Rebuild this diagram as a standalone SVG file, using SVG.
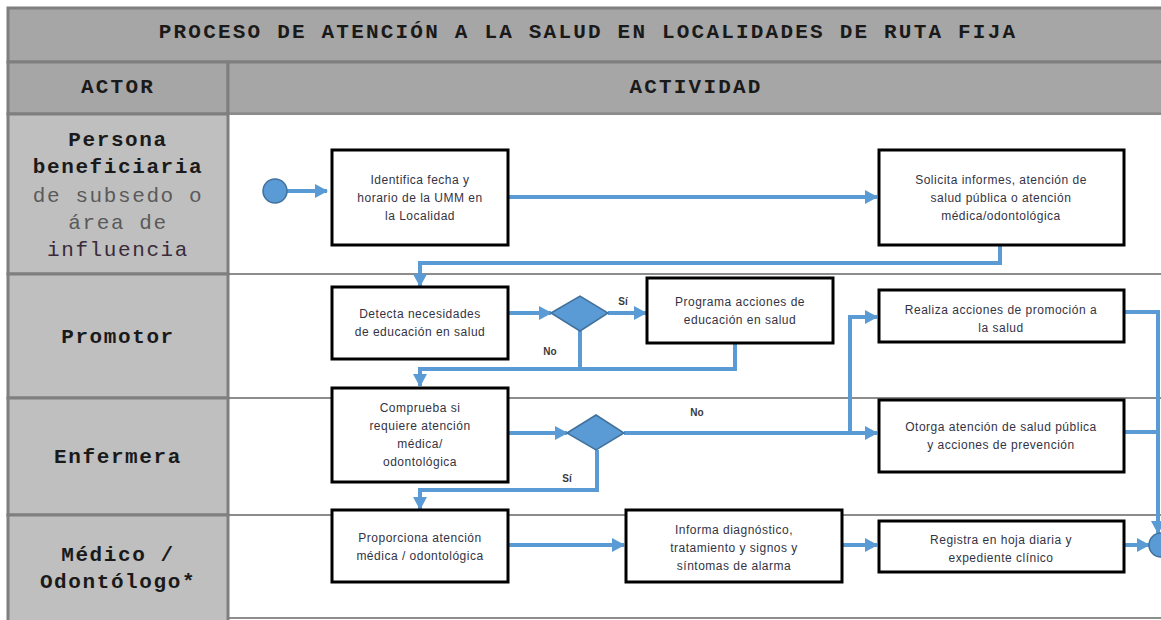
<svg xmlns="http://www.w3.org/2000/svg" width="1161" height="620" viewBox="0 0 1161 620">
<style>
.hdr{fill:#a6a6a6;stroke:#7f7f7f;stroke-width:3}
.act{fill:#bfbfbf;stroke:#7f7f7f;stroke-width:3}
.lane{fill:#ffffff;stroke:#8c8c8c;stroke-width:2}
.mono{font-family:"Liberation Mono","Courier New",monospace;font-weight:bold;fill:#1a1a1a;text-anchor:middle}
.title{font-size:21px;letter-spacing:2.2px}
.actor{font-size:21px;letter-spacing:1.6px}
.actor2{font-size:21px;letter-spacing:1.6px;font-weight:normal;fill:#5a5a5a}
.box{fill:#ffffff;stroke:#000000;stroke-width:3}
.bt{font-family:"Liberation Sans",Arial,sans-serif;font-size:12px;letter-spacing:0.5px;fill:#333344;text-anchor:middle}
.lbl{font-family:"Liberation Sans",Arial,sans-serif;font-size:10px;font-weight:bold;fill:#3a3a3a;text-anchor:middle}
.dia{fill:#5b9bd5;stroke:#41719c;stroke-width:1.5}
.circ{fill:#5b9bd5;stroke:#41719c;stroke-width:1.5}
.con{fill:none;stroke:#5b9bd5;stroke-width:4}
</style>
<defs>
<marker id="arr" markerUnits="userSpaceOnUse" markerWidth="14" markerHeight="16" refX="12" refY="8" orient="auto">
<path d="M0,1 L13,8 L0,15 Z" fill="#5b9bd5"/>
</marker>
</defs>

<g id="frame">
<rect class="hdr" x="8" y="8" width="1155" height="54"/>
<text class="mono title" x="588" y="38">PROCESO DE ATENCIÓN A LA SALUD EN LOCALIDADES DE RUTA FIJA</text>
<rect class="hdr" x="8" y="62" width="220" height="52"/>
<rect class="hdr" x="228" y="62" width="935" height="52"/>
<text class="mono title" x="118" y="93">ACTOR</text>
<text class="mono title" x="696" y="93">ACTIVIDAD</text>
</g>

<g id="lanes">
<rect class="lane" x="228" y="114" width="935" height="160"/>
<rect class="lane" x="228" y="274" width="935" height="124"/>
<rect class="lane" x="228" y="398" width="935" height="117"/>
<rect class="lane" x="228" y="515" width="935" height="103"/>
</g>

<g id="actor-persona">
<rect class="act" x="8" y="114" width="220" height="160"/>
<text class="mono actor" x="118" y="146">Persona</text>
<text class="mono actor" x="118" y="173">beneficiaria</text>
<text class="mono actor2" x="118" y="202">de subsedo o</text>
<text class="mono actor2" x="118" y="229">área de</text>
<text class="mono actor2" x="118" y="256" style="fill:#3a2a3a">influencia</text>
</g>
<g id="actor-promotor">
<rect class="act" x="8" y="274" width="220" height="124"/>
<text class="mono actor" x="118" y="343">Promotor</text>
</g>
<g id="actor-enfermera">
<rect class="act" x="8" y="398" width="220" height="117"/>
<text class="mono actor" x="118" y="463">Enfermera</text>
</g>
<g id="actor-medico">
<rect class="act" x="8" y="515" width="220" height="110"/>
<text class="mono actor" x="118" y="561">Médico /</text>
<text class="mono actor" x="118" y="588">Odontólogo*</text>
</g>

<g id="connectors">
<line class="con" x1="287" y1="191" x2="327" y2="191" marker-end="url(#arr)"/>
<line class="con" x1="508" y1="197" x2="877" y2="197" marker-end="url(#arr)"/>
<polyline class="con" points="1000,246 1000,263 420,263 420,286" marker-end="url(#arr)"/>
<line class="con" x1="508" y1="313" x2="551" y2="313" marker-end="url(#arr)"/>
<line class="con" x1="608" y1="313" x2="646" y2="313" marker-end="url(#arr)"/>
<polyline class="con" points="580,331 580,369"/>
<polyline class="con" points="735,343 735,369 420,369 420,386" marker-end="url(#arr)"/>
<line class="con" x1="508" y1="433" x2="567" y2="433" marker-end="url(#arr)"/>
<line class="con" x1="624" y1="433" x2="877" y2="433" marker-end="url(#arr)"/>
<polyline class="con" points="850,433 850,317 877,317" marker-end="url(#arr)"/>
<polyline class="con" points="597,450 597,490 420,490 420,509" marker-end="url(#arr)"/>
<line class="con" x1="508" y1="545" x2="624" y2="545" marker-end="url(#arr)"/>
<line class="con" x1="842" y1="545" x2="877" y2="545" marker-end="url(#arr)"/>
<line class="con" x1="1124" y1="545" x2="1149" y2="545" marker-end="url(#arr)"/>
<polyline class="con" points="1124,312 1158,312 1158,533" marker-end="url(#arr)"/>
<line class="con" x1="1124" y1="432" x2="1158" y2="432"/>
<text class="lbl" x="623" y="305">Sí</text>
<text class="lbl" x="550" y="355">No</text>
<text class="lbl" x="697" y="416">No</text>
<text class="lbl" x="567" y="482">Sí</text>
</g>

<g id="start">
<circle class="circ" cx="275" cy="191" r="12"/>
</g>
<g id="end">
<circle class="circ" cx="1161" cy="545" r="12"/>
</g>

<g id="n-identifica">
<rect class="box" x="332" y="150" width="176" height="95"/>
<text class="bt" x="420" y="184">Identifica fecha y</text>
<text class="bt" x="420" y="202">horario de la UMM en</text>
<text class="bt" x="420" y="220">la Localidad</text>
</g>
<g id="n-solicita">
<rect class="box" x="879" y="150" width="245" height="95"/>
<text class="bt" x="1001" y="184">Solicita informes, atención de</text>
<text class="bt" x="1001" y="202">salud pública o atención</text>
<text class="bt" x="1001" y="220">médica/odontológica</text>
</g>
<g id="n-detecta">
<rect class="box" x="332" y="287" width="176" height="72"/>
<text class="bt" x="420" y="318">Detecta necesidades</text>
<text class="bt" x="420" y="336">de educación en salud</text>
</g>
<g id="d-promotor">
<polygon class="dia" points="551,313 580,296 608,313 580,331"/>
</g>
<g id="n-programa">
<rect class="box" x="647" y="278" width="186" height="65"/>
<text class="bt" x="740" y="306">Programa acciones de</text>
<text class="bt" x="740" y="324">educación en salud</text>
</g>
<g id="n-realiza">
<rect class="box" x="879" y="290" width="245" height="52"/>
<text class="bt" x="1001" y="314">Realiza acciones de promoción a</text>
<text class="bt" x="1001" y="332">la salud</text>
</g>
<g id="n-comprueba">
<rect class="box" x="332" y="388" width="176" height="94"/>
<text class="bt" x="420" y="412">Comprueba si</text>
<text class="bt" x="420" y="430">requiere atención</text>
<text class="bt" x="420" y="448">médica/</text>
<text class="bt" x="420" y="466">odontológica</text>
</g>
<g id="d-enfermera">
<polygon class="dia" points="567,433 596,415 624,433 596,450"/>
</g>
<g id="n-otorga">
<rect class="box" x="879" y="400" width="245" height="72"/>
<text class="bt" x="1001" y="431">Otorga atención de salud pública</text>
<text class="bt" x="1001" y="449">y acciones de prevención</text>
</g>
<g id="n-proporciona">
<rect class="box" x="332" y="510" width="176" height="72"/>
<text class="bt" x="420" y="542">Proporciona atención</text>
<text class="bt" x="420" y="560">médica / odontológica</text>
</g>
<g id="n-informa">
<rect class="box" x="626" y="510" width="216" height="72"/>
<text class="bt" x="734" y="534">Informa diagnóstico,</text>
<text class="bt" x="734" y="552">tratamiento y signos y</text>
<text class="bt" x="734" y="570">síntomas de alarma</text>
</g>
<g id="n-registra">
<rect class="box" x="879" y="521" width="245" height="51"/>
<text class="bt" x="1001" y="544">Registra en hoja diaria y</text>
<text class="bt" x="1001" y="562">expediente clínico</text>
</g>
</svg>
